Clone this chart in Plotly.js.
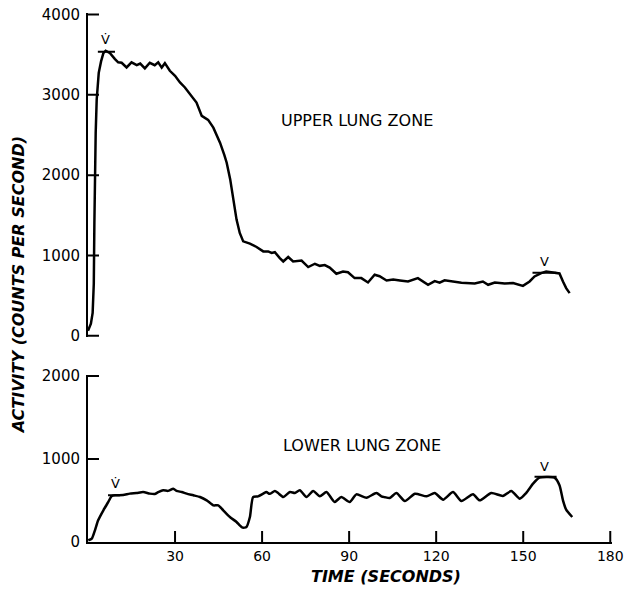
<!DOCTYPE html>
<html>
<head>
<meta charset="utf-8">
<script src="https://cdn.plot.ly/plotly-3.0.1.min.js"></script>
<style>html,body{margin:0;padding:0;background:#fff;}#chart{width:632px;height:589px;}</style>
</head>
<body>
<div id="chart"></div>
<script>
// Upper lung zone activity (counts per second) vs time (s)
const upperTime = [0, 0.45, 1.0, 1.6, 2.0, 2.2, 2.4, 2.65, 3.0, 3.7, 4.5, 5.3, 6.1, 7.6, 9.3, 10.4, 11.6, 13.3, 15, 16.8, 18, 19.6, 21.3, 23, 24.2, 25.4, 26.5, 28.2, 30, 31.7, 33.4, 35.7, 37.4, 39.2, 41.4, 43.2, 45.5, 47.0, 47.8, 49.0, 50.0, 51.2, 52.3, 53.5, 55.8, 58.1, 60.4, 62.1, 63.3, 64.4, 66.1, 67.3, 69, 70.7, 73.6, 75.9, 78.2, 79.9, 81.6, 83.3, 85.6, 87.9, 89.6, 91.9, 94.2, 96.5, 98.8, 100.5, 102.9, 105.2, 107.5, 110.3, 113.7, 117.2, 119.5, 121.2, 122.9, 125.8, 128.7, 133.3, 136.1, 137.9, 140.2, 143.6, 146.5, 149.9, 152.2, 153.9, 156.2, 157.9, 160.8, 162.5, 163.7, 164.8, 166];
const upperActivity = [60, 97, 150, 283, 650, 1400, 2100, 2527, 2940, 3275, 3417, 3520, 3550, 3520, 3446, 3405, 3400, 3342, 3405, 3370, 3390, 3330, 3400, 3370, 3405, 3340, 3395, 3300, 3237, 3155, 3092, 2988, 2905, 2738, 2688, 2592, 2405, 2250, 2155, 1950, 1700, 1446, 1280, 1175, 1146, 1105, 1050, 1050, 1030, 1040, 967, 925, 980, 925, 935, 855, 896, 870, 880, 848, 771, 800, 790, 717, 717, 663, 759, 740, 688, 700, 688, 675, 717, 634, 680, 660, 690, 671, 658, 650, 675, 634, 663, 650, 655, 621, 675, 738, 780, 800, 780, 775, 675, 592, 530];

// Lower lung zone
const lowerTime = [0.1, 1.3, 2.4, 3.5, 5.3, 7, 8.1, 9.3, 12.1, 14.4, 16.7, 19, 21.3, 23, 24.2, 25.9, 27.6, 29.4, 30.5, 32.3, 34, 36.3, 38.6, 40.9, 43.2, 44.9, 46.6, 48.9, 51.2, 52.3, 53.3, 54.6, 55.8, 56.9, 58.6, 60.4, 61.5, 62.6, 64.4, 65.5, 67.3, 69.6, 71.3, 73, 75.3, 77.6, 79.9, 82.2, 85, 87.3, 90.2, 92.5, 96, 99.4, 101.1, 102.3, 104, 106.3, 109.2, 112.7, 116.7, 119.5, 122.4, 125.8, 128.7, 132.7, 135, 139, 143, 145.9, 148.8, 151, 153.4, 155.6, 158.5, 160.8, 162.5, 163.7, 164.8, 166.9];
const lowerActivity = [20, 40, 141, 261, 382, 482, 550, 562, 565, 583, 590, 602, 583, 578, 600, 623, 616, 643, 616, 602, 583, 563, 542, 502, 442, 442, 382, 301, 241, 201, 173, 181, 301, 542, 550, 583, 602, 580, 614, 590, 542, 602, 590, 623, 542, 614, 550, 602, 482, 542, 482, 574, 534, 590, 550, 540, 530, 590, 494, 582, 550, 590, 510, 602, 494, 574, 502, 590, 555, 614, 522, 590, 703, 775, 783, 775, 683, 502, 390, 301];

// Marker labels (V-dot / V) and their plateau bars
const markText = ['V\u0307', 'V'];
const upperMarkT = [6.2, 157.4];
const upperMarkY = [3690, 925];
const upperBarStart = [3.4, 153.2];
const upperBarEnd = [9.3, 161.4];
const upperBarY = [3537, 785];
const lowerMarkT = [9.6, 157.4];
const lowerMarkY = [700, 915];
const lowerBarStart = [6.9, 153.9];
const lowerBarEnd = [11.0, 161.5];
const lowerBarY = [564, 785];

// Axis ticks
const xTicks = [30, 60, 90, 120, 150, 180];
const upperYTicks = [0, 1000, 2000, 3000, 4000];
const lowerYTicks = [0, 1000, 2000];
const zoneLabels = ['UPPER LUNG ZONE', 'LOWER LUNG ZONE'];
const zoneLabelT = [92.6, 94.3];
const zoneLabelY = [2677, 1168];

function barXY(s, e, y) {
  const xs = [], ys = [];
  for (let i = 0; i < s.length; i++) { xs.push(s[i], e[i], null); ys.push(y[i], y[i], null); }
  return {xs, ys};
}
const ub = barXY(upperBarStart, upperBarEnd, upperBarY);
const lb = barXY(lowerBarStart, lowerBarEnd, lowerBarY);

const traces = [
  {x: upperTime, y: upperActivity, xaxis: 'x2', yaxis: 'y2', mode: 'lines', line: {color: '#000', width: 2.5}, hoverinfo: 'none'},
  {x: lowerTime, y: lowerActivity, xaxis: 'x', yaxis: 'y', mode: 'lines', line: {color: '#000', width: 2.5, shape: 'spline', smoothing: 0.6}, hoverinfo: 'none'},
  {x: ub.xs, y: ub.ys, xaxis: 'x2', yaxis: 'y2', mode: 'lines', line: {color: '#000', width: 2}, hoverinfo: 'none'},
  {x: lb.xs, y: lb.ys, xaxis: 'x', yaxis: 'y', mode: 'lines', line: {color: '#000', width: 2}, hoverinfo: 'none'}
];

const annotations = [];
for (let i = 0; i < markText.length; i++) {
  annotations.push({x: upperMarkT[i], y: upperMarkY[i], xref: 'x2', yref: 'y2', text: markText[i], showarrow: false, font: {family: 'DejaVu Sans', size: 13, color: '#000'}});
  annotations.push({x: lowerMarkT[i], y: lowerMarkY[i], xref: 'x', yref: 'y', text: markText[i], showarrow: false, font: {family: 'DejaVu Sans', size: 13, color: '#000'}});
}
annotations.push({x: zoneLabelT[0], y: zoneLabelY[0], xref: 'x2', yref: 'y2', text: zoneLabels[0], showarrow: false, font: {family: 'DejaVu Sans', size: 16, color: '#000'}});
annotations.push({x: zoneLabelT[1], y: zoneLabelY[1], xref: 'x', yref: 'y', text: zoneLabels[1], showarrow: false, font: {family: 'DejaVu Sans', size: 16, color: '#000'}});
annotations.push({x: 0.568, y: -0.066, xref: 'paper', yref: 'paper', text: 'TIME (SECONDS)', showarrow: false, xanchor: 'center', yanchor: 'middle', font: {family: 'DejaVu Sans', size: 16, color: '#000', weight: 'bold', style: 'italic'}});
annotations.push({x: -0.132, y: 0.485, xref: 'paper', yref: 'paper', text: 'ACTIVITY (COUNTS PER SECOND)', textangle: -90, showarrow: false, xanchor: 'center', yanchor: 'middle', font: {family: 'DejaVu Sans', size: 16, color: '#000', weight: 'bold', style: 'italic'}});

// Tick marks drawn as pixel-sized shapes anchored at each tick value
const TICK_LEN = 11;
const shapes = [];
xTicks.forEach(v => shapes.push({type: 'line', xref: 'x', yref: 'y', ysizemode: 'pixel', yanchor: 0, x0: v, x1: v, y0: 0, y1: TICK_LEN, line: {color: '#000', width: 2}}));
upperYTicks.forEach(v => shapes.push({type: 'line', xref: 'x2', yref: 'y2', xsizemode: 'pixel', xanchor: 0, x0: 0, x1: TICK_LEN, y0: v, y1: v, line: {color: '#000', width: 2}}));
lowerYTicks.filter(v => v > 0).forEach(v => shapes.push({type: 'line', xref: 'x', yref: 'y', xsizemode: 'pixel', xanchor: 0, x0: 0, x1: TICK_LEN, y0: v, y1: v, line: {color: '#000', width: 2}}));

function axisStyle(extra) {
  return Object.assign({showgrid: false, zeroline: false, showline: true, linecolor: '#000', linewidth: 2, ticks: ''}, extra);
}

const layout = {
  width: 632, height: 589,
  margin: {l: 88, r: 20, t: 13, b: 47},
  paper_bgcolor: '#fff', plot_bgcolor: '#fff',
  showlegend: false,
  font: {family: 'DejaVu Sans', color: '#000'},
  xaxis: axisStyle({domain: [0, 1], range: [0, 180.6], anchor: 'y', tickmode: 'array', tickvals: xTicks, tickfont: {size: 14, family: 'DejaVu Sans'}}),
  xaxis2: {domain: [0, 1], range: [0, 180.6], anchor: 'y2', visible: false, showgrid: false, zeroline: false},
  yaxis: axisStyle({domain: [0, 0.3166], range: [0, 2018], anchor: 'x', tickmode: 'array', tickvals: lowerYTicks, ticklabelstandoff: 3, tickfont: {size: 15, family: 'DejaVu Sans'}}),
  yaxis2: axisStyle({domain: [0.387, 1], range: [-20, 4020], anchor: 'x2', tickmode: 'array', tickvals: upperYTicks, ticklabelstandoff: 3, tickfont: {size: 15, family: 'DejaVu Sans'}}),
  shapes: shapes,
  annotations: annotations
};

Plotly.newPlot('chart', traces, layout, {displayModeBar: false, staticPlot: true});
</script>
</body>
</html>
